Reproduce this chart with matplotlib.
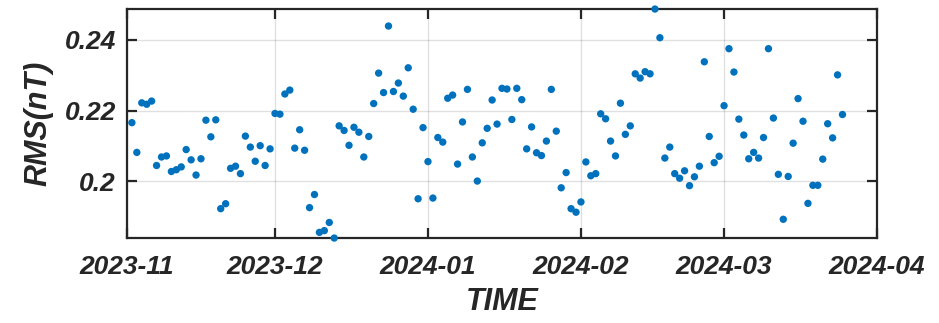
import numpy as np
import pandas as pd
import matplotlib
matplotlib.use('Agg')
import matplotlib.pyplot as plt
import matplotlib.dates as mdates

# daily RMS values, 2023-11-02 .. 2024-03-25
datas = pd.date_range('2023-11-02', '2024-03-25', freq='D')

rms = [
    0.2166, 0.2082, 0.2222, 0.2218, 0.2227, 0.2045, 0.2069, 0.2072, 0.2028, 0.2033,
    0.2041, 0.2090, 0.2061, 0.2018, 0.2064, 0.2173, 0.2126, 0.2174, 0.1923, 0.1937,
    0.2037, 0.2043, 0.2022, 0.2128, 0.2097, 0.2057, 0.2101, 0.2045, 0.2092, 0.2192,
    0.2190, 0.2247, 0.2258, 0.2094, 0.2146, 0.2088, 0.1926, 0.1963, 0.1856, 0.1861,
    0.1884, 0.1840, 0.2157, 0.2144, 0.2102, 0.2153, 0.2139, 0.2069, 0.2127, 0.2220,
    0.2306, 0.2251, 0.2439, 0.2254, 0.2278, 0.2241, 0.2321, 0.2204, 0.1951, 0.2152,
    0.2056, 0.1953, 0.2124, 0.2111, 0.2235, 0.2244, 0.2049, 0.2168, 0.2260, 0.2069,
    0.2001, 0.2109, 0.2150, 0.2230, 0.2162, 0.2263, 0.2261, 0.2175, 0.2263, 0.2231,
    0.2092, 0.2154, 0.2081, 0.2073, 0.2114, 0.2260, 0.2142, 0.1982, 0.2025, 0.1923,
    0.1913, 0.1942, 0.2055, 0.2016, 0.2022, 0.2191, 0.2177, 0.2114, 0.2072, 0.2221,
    0.2133, 0.2157, 0.2304, 0.2292, 0.2310, 0.2304, 0.2487, 0.2406, 0.2066, 0.2097,
    0.2022, 0.2009, 0.2030, 0.1988, 0.2013, 0.2043, 0.2338, 0.2127, 0.2053, 0.2071,
    0.2214, 0.2375, 0.2309, 0.2176, 0.2131, 0.2064, 0.2082, 0.2066, 0.2124, 0.2375,
    0.2179, 0.2020, 0.1893, 0.2014, 0.2108, 0.2234, 0.2170, 0.1938, 0.1989, 0.1989,
    0.2063, 0.2163, 0.2123, 0.2301, 0.2189,
]

meses = pd.date_range('2023-11-01', '2024-04-01', freq='MS')
meses_labels = ['2023-11', '2023-12', '2024-01', '2024-02', '2024-03', '2024-04']
y_ticks = [0.2, 0.22, 0.24]
y_labels = ['0.2', '0.22', '0.24']

plt.rcParams['font.family'] = ['Liberation Sans', 'DejaVu Sans']
plt.rcParams['font.weight'] = 'bold'
plt.rcParams['font.style'] = 'italic'
plt.rcParams['axes.labelweight'] = 'bold'

cor_eixo = '#262626'

fig = plt.figure(figsize=(9.39, 3.23), dpi=100)
ax = fig.add_axes([0.1352, 0.263, 0.7988, 0.709])

ax.scatter(datas, rms, s=28, color='#0072BD', edgecolors='none', zorder=3, clip_on=False)

ax.set_xlim(meses[0], meses[-1])
ax.set_ylim(min(rms), max(rms))
ax.set_xticks(meses)
ax.set_xticklabels(meses_labels)
ax.set_yticks(y_ticks)
ax.set_yticklabels(y_labels)

ax.grid(True, color='#000000', alpha=0.12, linewidth=1.0)
ax.set_axisbelow(True)
for sp in ax.spines.values():
    sp.set_color(cor_eixo)
    sp.set_linewidth(1.6)

ax.tick_params(axis='both', direction='in', length=7, width=1.6, color=cor_eixo,
               labelcolor=cor_eixo, labelsize=19, top=True, right=True)
ax.tick_params(axis='x', pad=12)
ax.tick_params(axis='y', pad=8)

ax.set_xlabel('TIME', fontsize=22, fontweight='bold', color=cor_eixo, labelpad=6)
ax.set_ylabel('RMS(nT)', fontsize=22, fontweight='bold', color=cor_eixo, labelpad=8)

fig.savefig('out.png', dpi=100)
